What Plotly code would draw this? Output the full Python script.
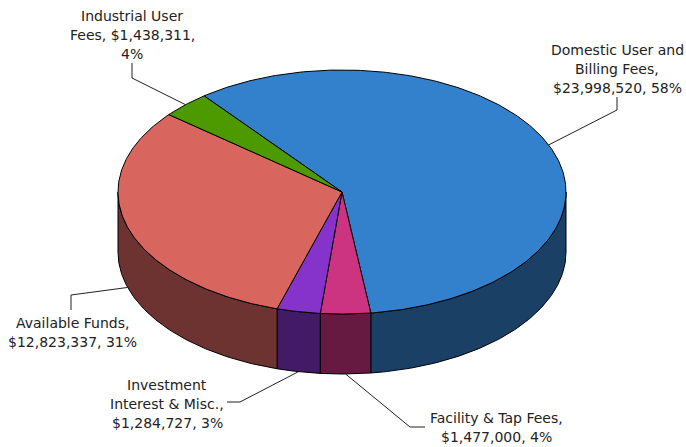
import math
import plotly.graph_objects as go

# Revenue sources (dollars)
categories = ["Domestic User and Billing Fees", "Facility & Tap Fees",
              "Investment Interest & Misc.", "Available Funds", "Industrial User Fees"]
values = [23998520, 1477000, 1284727, 12823337, 1438311]
top_colors = ["#3380CC", "#CC3381", "#8633CC", "#D9655F", "#4D9900"]
side_colors = ["#1A4066", "#661A41", "#431A66", "#6D3330", "#274D00"]

# words per text line for each label
line_words = [[3, 2, 2], [4, 2], [1, 3, 2], [2, 2], [2, 2, 1]]
# label placement: text centre x, first line y, elbow points of the leader line
label_pos = [(617, 50, [(617, 97), (617, 110)]),
             (496, 418, [(425, 427), (410, 427)]),
             (167, 385, [(227, 402), (240, 402)]),
             (72, 323, [(71, 310), (71, 295)]),
             (132, 16, [(132, 63), (132, 78)])]
line_gap = 19

# pie geometry (pixel space)
cx, cy, rx, ry, depth = 342, 192, 224, 122, 60
start_deg = 128

total = sum(values)

# whole-number percentages that add to 100 (largest remainder)
raw = [v * 100 / total for v in values]
pcts = [math.floor(r) for r in raw]
order = sorted(range(len(raw)), key=lambda i: raw[i] - pcts[i], reverse=True)
for i in order[:100 - sum(pcts)]:
    pcts[i] += 1


def pt(deg, dz=0):
    t = math.radians(deg)
    return cx + rx * math.cos(t), cy - ry * math.sin(t) + dz


def arc(a0, a1, dz=0, n_per_deg=1.5):
    n = max(2, int(abs(a1 - a0) * n_per_deg))
    pts = [pt(a0 + (a1 - a0) * k / n, dz) for k in range(n + 1)]
    return [p[0] for p in pts], [p[1] for p in pts]


# slice angle ranges, running clockwise from the start angle
spans = []
a = start_deg
for v in values:
    sweep = v / total * 360
    spans.append((a - sweep, a))
    a -= sweep

fig = go.Figure()

# front side walls
for i, (a_lo, a_hi) in enumerate(spans):
    for k in (-1, 0, 1):
        lo = max(a_lo, -180 + 360 * k)
        hi = min(a_hi, 0 + 360 * k)
        if hi <= lo:
            continue
        tx, ty = arc(lo, hi)
        bx, by = arc(hi, lo, depth)
        fig.add_trace(go.Scatter(x=tx + bx + [tx[0]], y=ty + by + [ty[0]],
                                 mode="lines", fill="toself",
                                 fillcolor=side_colors[i],
                                 line=dict(color="black", width=1),
                                 hoverinfo="skip", showlegend=False))

# top faces
for i, (a_lo, a_hi) in enumerate(spans):
    ax, ay = arc(a_hi, a_lo)
    fig.add_trace(go.Scatter(x=[cx] + ax + [cx], y=[cy] + ay + [cy],
                             mode="lines", fill="toself",
                             fillcolor=top_colors[i],
                             line=dict(color="black", width=1),
                             hoverinfo="skip", showlegend=False))

# labels with leader lines
annotations = []
for i, (a_lo, a_hi) in enumerate(spans):
    mid = (a_lo + a_hi) / 2
    front = math.sin(math.radians(mid)) < 0
    anchor = pt(mid, depth if front else 0)
    tx0, ty0, elbows = label_pos[i]
    lx = [p[0] for p in elbows] + [anchor[0]]
    ly = [p[1] for p in elbows] + [anchor[1]]
    fig.add_trace(go.Scatter(x=lx, y=ly, mode="lines",
                             line=dict(color="#222222", width=1),
                             hoverinfo="skip", showlegend=False))

    words = f"{categories[i]}, ${values[i]:,}, {pcts[i]}%".split(" ")
    pos = 0
    for j, cnt in enumerate(line_words[i]):
        text = " ".join(words[pos:pos + cnt])
        pos += cnt
        annotations.append(dict(x=tx0, y=ty0 + j * line_gap, text=text,
                                showarrow=False, xanchor="center",
                                yanchor="middle",
                                font=dict(family="DejaVu Sans", size=14,
                                          color="#222222")))

fig.update_layout(
    width=686, height=447,
    margin=dict(l=0, r=0, t=0, b=0),
    paper_bgcolor="white", plot_bgcolor="white",
    xaxis=dict(range=[0, 686], visible=False, fixedrange=True),
    yaxis=dict(range=[447, 0], visible=False, fixedrange=True),
    annotations=annotations,
    showlegend=False,
)

fig.write_html("out.html")
